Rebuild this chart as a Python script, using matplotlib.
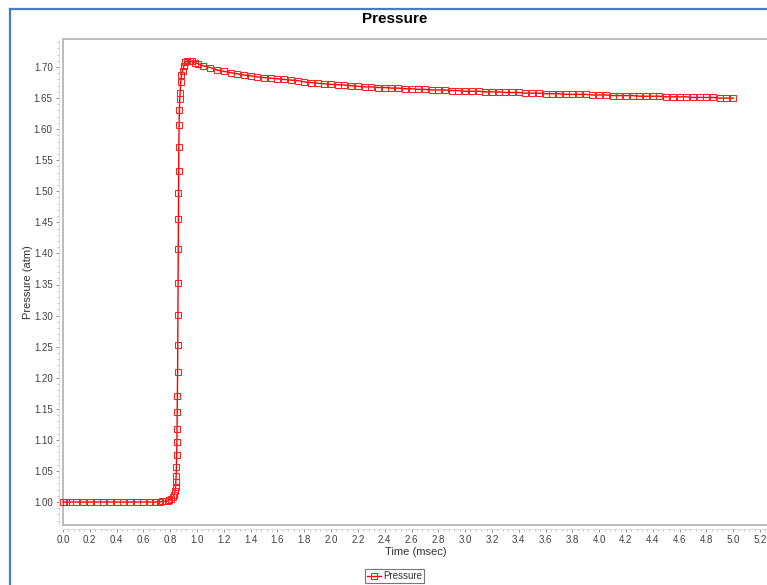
import matplotlib
matplotlib.use("Agg")
import matplotlib.pyplot as plt
from matplotlib.lines import Line2D
from matplotlib.ticker import MultipleLocator, AutoMinorLocator, FormatStrFormatter

plt.rcParams['font.family'] = ['Liberation Sans', 'DejaVu Sans']

# Pressure history (time in msec, pressure in atm)
time_msec = [
    0.00, 0.02, 0.05, 0.10, 0.15, 0.20, 0.25, 0.30, 0.35, 0.40, 0.45, 0.50,
    0.55, 0.60, 0.65, 0.69, 0.72, 0.74, 0.76, 0.78, 0.79, 0.805, 0.82, 0.83,
    0.836, 0.840, 0.842, 0.844, 0.846, 0.848, 0.850, 0.851, 0.852, 0.853,
    0.855, 0.856, 0.857, 0.858, 0.859, 0.860, 0.861, 0.862, 0.864, 0.866,
    0.868, 0.871, 0.874, 0.878, 0.884, 0.892, 0.902, 0.913, 0.928, 0.946,
    0.966, 0.986, 1.010, 1.047,
    1.10, 1.15, 1.20, 1.25, 1.30, 1.35, 1.40, 1.45, 1.50, 1.55, 1.60, 1.65,
    1.70, 1.75, 1.80, 1.85, 1.90, 1.95, 2.00, 2.05, 2.10, 2.15, 2.20, 2.25,
    2.30, 2.35, 2.40, 2.45, 2.50, 2.55, 2.60, 2.65, 2.70, 2.75, 2.80, 2.85,
    2.90, 2.95, 3.00, 3.05, 3.10, 3.15, 3.20, 3.25, 3.30, 3.35, 3.40, 3.45,
    3.50, 3.55, 3.60, 3.65, 3.70, 3.75, 3.80, 3.85, 3.90, 3.95, 4.00, 4.05,
    4.10, 4.15, 4.20, 4.25, 4.30, 4.35, 4.40, 4.45, 4.50, 4.55, 4.60, 4.65,
    4.70, 4.75, 4.80, 4.85, 4.90, 4.95, 5.00,
]
pressure_atm = [
    1.000, 1.000, 1.000, 1.000, 1.000, 1.000, 1.000, 1.000, 1.000, 1.000, 1.000, 1.000,
    1.000, 1.000, 1.000, 1.000, 1.000, 1.001, 1.001, 1.002, 1.003, 1.005, 1.008, 1.012,
    1.018, 1.024, 1.032, 1.042, 1.056, 1.076, 1.097, 1.118, 1.145, 1.171,
    1.209, 1.253, 1.301, 1.352, 1.407, 1.455, 1.497, 1.533, 1.571, 1.607,
    1.631, 1.648, 1.658, 1.676, 1.687, 1.694, 1.702, 1.708, 1.710, 1.710,
    1.709, 1.707, 1.705, 1.702,
    1.699, 1.695, 1.693, 1.691, 1.689, 1.687, 1.686, 1.684, 1.683, 1.682, 1.681, 1.680,
    1.679, 1.678, 1.676, 1.675, 1.674, 1.673, 1.672, 1.6715, 1.671, 1.670, 1.669, 1.668,
    1.668, 1.667, 1.667, 1.666, 1.666, 1.665, 1.665, 1.664, 1.664, 1.663, 1.663, 1.663,
    1.662, 1.662, 1.661, 1.661, 1.661, 1.660, 1.660, 1.660, 1.659, 1.659, 1.659, 1.658,
    1.658, 1.658, 1.657, 1.657, 1.657, 1.656, 1.656, 1.656, 1.656, 1.655, 1.655, 1.655,
    1.654, 1.654, 1.654, 1.654, 1.653, 1.653, 1.653, 1.653, 1.652, 1.652, 1.652, 1.652,
    1.651, 1.651, 1.651, 1.651, 1.650, 1.650, 1.650,
]

W, H = 767, 585
fig = plt.figure(figsize=(W / 100, H / 100), dpi=100)
fig.patch.set_facecolor('white')

# data area in pixel coordinates
left, top, bottom, right = 63, 39, 525, 769
ax = fig.add_axes([left / W, 1 - bottom / H, (right - left) / W, (bottom - top) / H])

x_per_px = 5.2 / (760 - 63)
y_per_px = 0.70 / (502 - 67)
ax.set_xlim(0.0, (right - left) * x_per_px)
ax.set_ylim(1.00 - (bottom - 502) * y_per_px, 1.70 + (67 - top) * y_per_px)

line, = ax.plot(time_msec, pressure_atm, color='#ff0000', lw=1.0,
                marker='s', markersize=5.0, markerfacecolor='none',
                markeredgecolor='#ff2020', markeredgewidth=0.75,
                label='Pressure', clip_on=False, zorder=3)

# plot outline
for s in ['top', 'right']:
    ax.spines[s].set_visible(False)
ax.plot([0, 1], [1, 1], transform=ax.transAxes, color='#b0b0b0', lw=1.2, clip_on=False)
ax.plot([0, 0], [0, 1], transform=ax.transAxes, color='#b0b0b0', lw=1.2, clip_on=False)
ax.plot([0, 1], [0, 0], transform=ax.transAxes, color='#b0b0b0', lw=1.2, clip_on=False)

# axes offset from the data area, shown through their tick marks
for s in ['left', 'bottom']:
    ax.spines[s].set_position(('outward', 3))
    ax.spines[s].set_color('#d0d0d0')
    ax.spines[s].set_linewidth(0.5)

ax.xaxis.set_major_locator(MultipleLocator(0.2))
ax.xaxis.set_minor_locator(AutoMinorLocator(5))
ax.yaxis.set_major_locator(MultipleLocator(0.05))
ax.yaxis.set_minor_locator(AutoMinorLocator(5))
ax.xaxis.set_major_formatter(FormatStrFormatter('%.1f'))
ax.yaxis.set_major_formatter(FormatStrFormatter('%.2f'))

ax.tick_params(which='major', direction='out', length=2.5, width=0.7,
               color='#909090', labelsize=7, labelcolor='#404040', pad=2)
ax.tick_params(which='minor', direction='out', length=1.5, width=0.6, color='#b8b8b8')

fig.text(416 / W, 1 - 552 / H, 'Time (msec)', ha='center', va='center',
         fontsize=8, color='#333333')
fig.text(28 / W, 1 - 282 / H, 'Pressure (atm)', ha='center', va='center',
         rotation=90, fontsize=8, color='#333333')
fig.text(395 / W, 1 - 19 / H, 'Pressure', ha='center', va='center',
         fontsize=11, fontweight='bold', color='black')

leg = fig.legend(handles=[line], labels=['Pressure'], loc='center',
                 bbox_to_anchor=(394.5 / W, 1 - 576 / H), fontsize=7,
                 frameon=True, fancybox=False, edgecolor='#555555',
                 borderpad=0.25, handlelength=1.4, handletextpad=0.2,
                 borderaxespad=0)
leg.get_frame().set_linewidth(0.8)
for t in leg.get_texts():
    t.set_color('#333333')

# panel border
blue = '#4a7ebb'
fig.add_artist(Line2D([10 / W, 10 / W], [0, 1 - 9 / H], color=blue, lw=1.6))
fig.add_artist(Line2D([10 / W, 1], [1 - 9 / H, 1 - 9 / H], color=blue, lw=1.6))

fig.savefig('out.png', dpi=100)
